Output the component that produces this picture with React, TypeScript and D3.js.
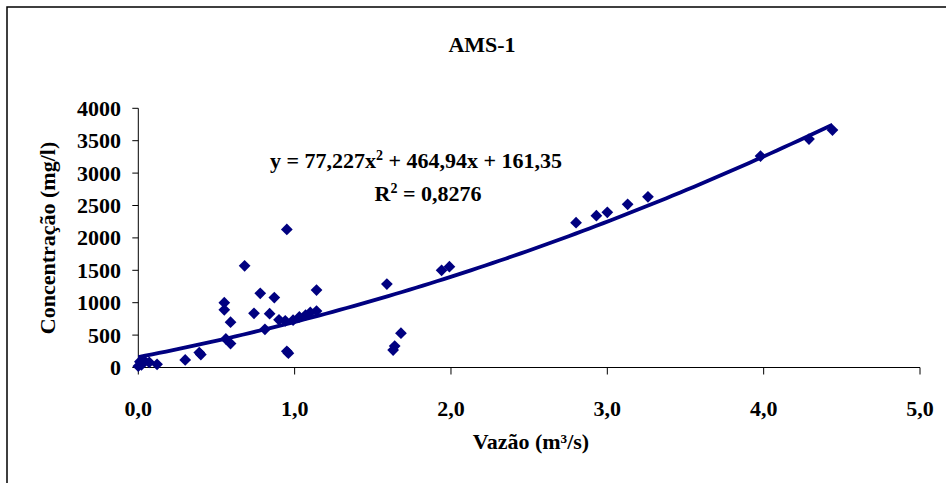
import React from "react";
import * as d3 from "d3";

const xValues = [0.0, 0.01, 0.02, 0.04, 0.07, 0.12, 0.3, 0.39, 0.4, 0.55, 0.55, 0.56, 0.59, 0.59, 0.68, 0.74, 0.78, 0.81, 0.84, 0.87, 0.9, 0.94, 0.95, 0.95, 0.96, 0.99, 1.03, 1.07, 1.1, 1.14, 1.14, 1.59, 1.63, 1.64, 1.68, 1.94, 1.99, 2.8, 2.93, 3.0, 3.13, 3.26, 3.98, 4.29, 4.44];
const yValues = [20, 90, 40, 100, 80, 50, 116, 230, 200, 1000, 890, 440, 370, 700, 1570, 836, 1145, 590, 830, 1080, 735, 720, 2130, 250, 220, 730, 780, 810, 850, 870, 1195, 1288, 270, 330, 530, 1500, 1555, 2234, 2342, 2394, 2518, 2635, 3263, 3526, 3665];
const fitCoefficients = [77.227, 464.94, 161.35];
const xTicks = [0, 1, 2, 3, 4, 5];
const yTicks = [0, 500, 1000, 1500, 2000, 2500, 3000, 3500, 4000];

const W = 946;
const H = 483;
const FONT = "'Liberation Serif', 'Times New Roman', serif";
const NAVY = "#000080";
const FS = 22;

export default function App() {
  const x = d3.scaleLinear().domain([0, 5]).range([138.3, 920]);
  const y = d3.scaleLinear().domain([0, 4000]).range([367.5, 108.3]);
  const fmtX = (v: number) => v.toFixed(1).replace(".", ",");
  const [a, b, c] = fitCoefficients;
  const xMin = d3.min(xValues) as number;
  const xMax = d3.max(xValues) as number;
  const fitPts: [number, number][] = d3.range(0, 101).map((i) => {
    const xv = xMin + ((xMax - xMin) * i) / 100;
    return [xv, a * xv * xv + b * xv + c];
  });
  const line = d3.line<[number, number]>().x((d) => x(d[0])).y((d) => y(d[1]));
  const diamond = d3.symbol().type(d3.symbolDiamond2 ?? d3.symbolDiamond).size(88)();
  const points = xValues.map((xv, i) => [xv, yValues[i]]);

  return (
    <svg width={W} height={H} style={{ position: "absolute", left: 0, top: 0, background: "#fff" }} fontFamily={FONT}>
      <rect x={0} y={0} width={W} height={H} fill="#fff" />
      <path d={`M7,${H + 2}V7H${W + 2}`} fill="none" stroke="#000" strokeWidth={1.5} />
      <text x={482} y={52} textAnchor="middle" fontWeight="bold" fontSize={FS}>AMS-1</text>

      {/* axes */}
      <line x1={x(0)} x2={x(5)} y1={y(0)} y2={y(0)} stroke="#000" strokeWidth={1} />
      <line x1={x(0)} x2={x(0)} y1={y(0)} y2={y(4000)} stroke="#000" strokeWidth={1} />
      {xTicks.map((t) => (
        <g key={"xt" + t}>
          <line x1={x(t)} x2={x(t)} y1={y(0)} y2={y(0) + 7} stroke="#000" />
          <text x={x(t)} y={416} textAnchor="middle" fontWeight="bold" fontSize={FS}>{fmtX(t)}</text>
        </g>
      ))}
      {yTicks.map((t) => (
        <g key={"yt" + t}>
          <line x1={x(0) - 6} x2={x(0)} y1={y(t)} y2={y(t)} stroke="#000" />
          <text x={121} y={y(t) + 7.5} textAnchor="end" fontWeight="bold" fontSize={FS}>{t}</text>
        </g>
      ))}
      <text x={531} y={449} textAnchor="middle" fontWeight="bold" fontSize={FS}>Vazão (m³/s)</text>
      <text transform="translate(55,238) rotate(-90)" textAnchor="middle" fontWeight="bold" fontSize={FS}>Concentração (mg/l)</text>

      {/* points */}
      {points.map((p, i) => (
        <path key={"p" + i} d={diamond as string} transform={`translate(${x(p[0])},${y(p[1])})`} fill={NAVY} />
      ))}
      {/* trendline */}
      <path d={line(fitPts) as string} fill="none" stroke={NAVY} strokeWidth={3.8} />

      <text x={416} y={168} textAnchor="middle" fontWeight="bold" fontSize={FS}>
        y = 77,227x<tspan dy={-8} fontSize={14}>2</tspan><tspan dy={8}> + 464,94x + 161,35</tspan>
      </text>
      <text x={428} y={201} textAnchor="middle" fontWeight="bold" fontSize={FS}>
        R<tspan dy={-8} fontSize={14}>2</tspan><tspan dy={8}> = 0,8276</tspan>
      </text>
    </svg>
  );
}
